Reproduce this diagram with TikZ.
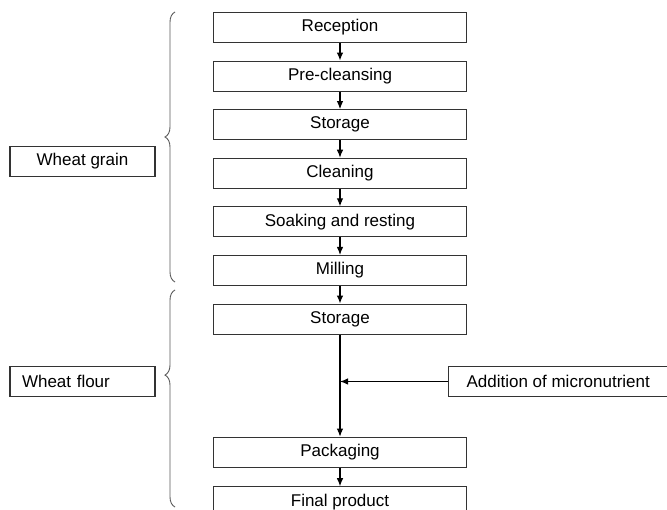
\documentclass[tikz,border=0pt]{standalone}
\usepackage{fontspec}
\setmainfont{Liberation Sans}
\usetikzlibrary{arrows.meta, positioning, decorations.pathreplacing}

\begin{document}
\begin{tikzpicture}[x=1pt, y=1pt,
		font=\fontsize{17}{20}\selectfont,
		node distance=17.5pt,
		schritt/.style={draw=black!80, line width=1.1pt, minimum width=253pt, minimum height=30pt, inner sep=2pt},
		gruppe/.style={draw=black!80, line width=1.1pt, minimum height=30pt, inner ysep=2pt},
		pfeil/.style={-{Latex[length=8pt,width=6.5pt]}, line width=1.1pt},
		klammer/.style={decorate, draw=black!65, line width=0.9pt}]
	\useasboundingbox (0,0) rectangle (667,509);
	
	% Prozessschritte
	\node[schritt] (rec) at (340,481.5) {Reception};
	\node[schritt, below=of rec] (pre) {Pre-cleansing};
	\node[schritt, below=of pre] (sto) {Storage};
	\node[schritt, below=of sto] (clean) {Cleaning};
	\node[schritt, below=of clean] (soak) {Soaking and resting};
	\node[schritt, below=of soak] (mill) {Milling};
	\node[schritt, below=of mill] (sto2) {Storage};
	\node[schritt, below=102pt of sto2] (pack) {Packaging};
	\node[schritt, below=18.5pt of pack] (fin) {Final product};
	
	% Gruppen links
	\node[gruppe, minimum width=145pt] (korn) at (82.5,347.5) {Wheat grain};
	\node[gruppe, text width=121pt, align=left, inner xsep=12pt] (mehl) at (82.5,127.5) {Wheat flour};
	
	% Zusatz rechts
	\node[gruppe, anchor=west, align=left, inner xsep=18pt] (zusatz) at (448,127.5) {Addition of micronutrient};
	
	% Pfeile
	\foreach \a/\b in {rec/pre, pre/sto, sto/clean, clean/soak, soak/mill, mill/sto2, sto2/pack, pack/fin} {
		\draw[pfeil] (\a) -- (\b);
	}
	\draw[pfeil] (zusatz.west) -- (zusatz.west -| sto2.south);
	
	% Klammern
	\draw[klammer, decoration={brace, amplitude=10pt, aspect=0.537}] (175,227) -- (175,497);
	\draw[klammer, decoration={brace, amplitude=10pt, aspect=0.608}] (175,2) -- (175,219);
\end{tikzpicture}
\end{document}
